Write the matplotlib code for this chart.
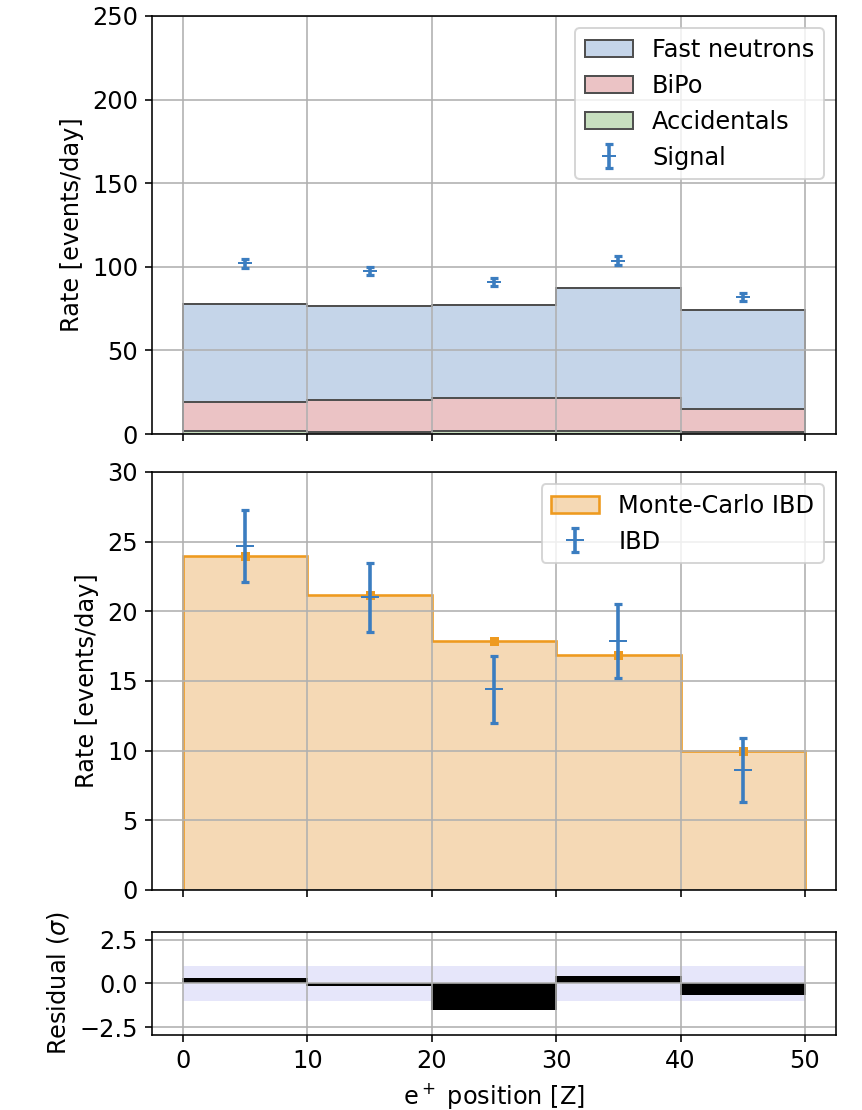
import numpy as np
import matplotlib
matplotlib.use("Agg")
import matplotlib.pyplot as plt

# Bin edges along the detector (segment position Z)
edges = [0, 10, 20, 30, 40, 50]
centers = [5, 15, 25, 35, 45]

# Background components (events/day), stacked
accidentals = [2.0, 1.5, 2.0, 2.0, 1.5]
bipo = [17.1, 18.8, 19.5, 19.5, 13.5]
fast_neutrons = [58.7, 56.3, 55.7, 65.8, 59.2]

# Total signal-window rate
signal = [102.0, 97.5, 91.0, 103.5, 82.0]
signal_err = [2.6, 2.6, 2.5, 2.7, 2.4]

# Background-subtracted IBD rate vs Monte-Carlo expectation
mc_ibd = [24.0, 21.2, 17.9, 16.9, 10.0]
ibd = [24.7, 21.0, 14.4, 17.9, 8.6]
ibd_err = [2.6, 2.45, 2.4, 2.65, 2.3]

# Residuals in units of sigma
residual = [0.27, -0.08, -1.46, 0.38, -0.61]

plt.rcParams["font.size"] = 12

DPI = 144
fig = plt.figure(figsize=(862 / DPI, 1110 / DPI), dpi=DPI)

left, width = 0.1763, 0.7935
ax1 = fig.add_axes([left, 0.6090, width, 0.3766])
ax2 = fig.add_axes([left, 0.1982, width, 0.3766], sharex=ax1)
ax3 = fig.add_axes([left, 0.0676, width, 0.0930], sharex=ax1)

err_color = "#3b7dc0"
edge_gray = "#505050"

# --- Top panel: stacked backgrounds + signal ---
base0 = np.zeros(len(accidentals))
base1 = base0 + np.array(accidentals)
base2 = base1 + np.array(bipo)
top = base2 + np.array(fast_neutrons)

ax1.stairs(top, edges, baseline=base2, fill=True,
           facecolor=(0.255, 0.463, 0.725, 0.30), edgecolor=edge_gray,
           linewidth=1.0, label="Fast neutrons")
ax1.stairs(base2, edges, baseline=base1, fill=True,
           facecolor=(0.753, 0.227, 0.255, 0.30), edgecolor=edge_gray,
           linewidth=1.0, label="BiPo")
ax1.stairs(base1, edges, baseline=base0, fill=True,
           facecolor=(0.282, 0.596, 0.176, 0.30), edgecolor=edge_gray,
           linewidth=1.0, label="Accidentals")
ax1.errorbar(centers, signal, yerr=signal_err, fmt="_", color=err_color,
             markersize=7, elinewidth=1.8, capsize=2.2, capthick=1.6,
             label="Signal")
ax1.set_ylim(0, 250)
ax1.set_ylabel("Rate [events/day]")
ax1.grid(True)
ax1.legend(loc="upper right")
ax1.tick_params(labelbottom=False)

# --- Middle panel: IBD vs Monte-Carlo ---
h_mc = ax2.stairs(mc_ibd, edges, fill=True, facecolor=(0.871, 0.518, 0.047, 0.30),
                  edgecolor="#ee9a1f", linewidth=1.3, label="Monte-Carlo IBD")
ax2.plot(centers, mc_ibd, "s", color="#ee9a1f", markersize=3.5, zorder=3)
h_ibd = ax2.errorbar(centers, ibd, yerr=ibd_err, fmt="_", color=err_color,
                     markersize=9, elinewidth=1.8, capsize=2.2, capthick=1.6,
                     label="IBD", zorder=4)
ax2.set_ylim(0, 30)
ax2.set_ylabel("Rate [events/day]")
ax2.grid(True)
ax2.legend(handles=[h_mc, h_ibd], loc="upper right")
ax2.tick_params(labelbottom=False)

# --- Bottom panel: residuals ---
ax3.fill_between([edges[0], edges[-1]], -1, 1, color="lavender", linewidth=0)
ax3.stairs(residual, edges, baseline=0, fill=True, facecolor="black",
           edgecolor="black", linewidth=1.0)
ax3.set_ylim(-2.95, 2.95)
ax3.set_yticks([-2.5, 0.0, 2.5])
ax3.set_ylabel(r"Residual ($\sigma$)")
ax3.set_xlabel(r"e$^+$ position [Z]")
ax3.grid(True)

ax1.set_xlim(-2.5, 52.5)
ax1.set_xticks([0, 10, 20, 30, 40, 50])

fig.savefig("out.png", dpi=DPI)
